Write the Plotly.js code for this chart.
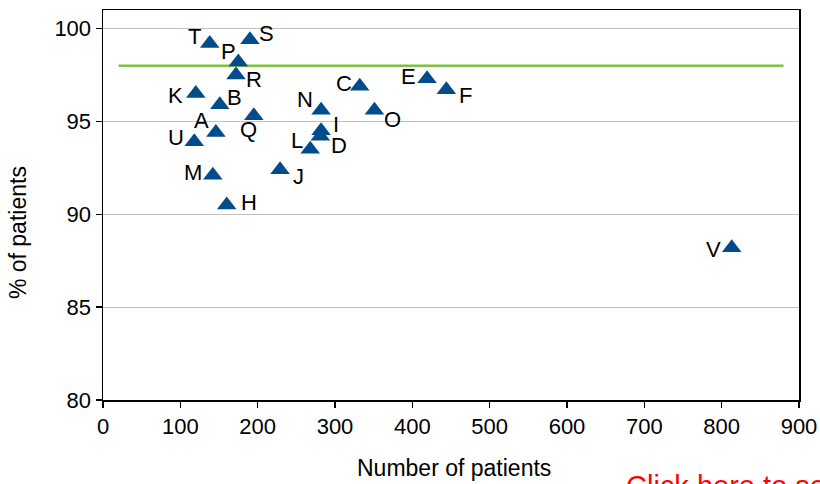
<!DOCTYPE html>
<html>
<head>
<meta charset="utf-8">
<script src="https://cdn.plot.ly/plotly-3.0.1.min.js"></script>
<style>
  html, body { margin: 0; padding: 0; background: #ffffff; }
  #chart { width: 820px; height: 484px; }
</style>
</head>
<body>
<div id="chart"></div>
<script>
// Centre identifiers
const centres = ['T', 'S', 'P', 'R', 'K', 'B', 'Q', 'A', 'U', 'M', 'H',
                 'J', 'L', 'D', 'I', 'N', 'C', 'O', 'E', 'F', 'V'];
// Number of patients per centre
const patientCount = [138, 190, 175, 172, 120, 151, 195, 146, 118, 142, 160,
                      229, 268, 281, 282, 282, 332, 351, 419, 444, 813];
// % of patients per centre
const patientPct = [99.2, 99.4, 98.2, 97.5, 96.5, 95.9, 95.3, 94.4, 93.9, 92.1, 90.5,
                    92.4, 93.5, 94.2, 94.5, 95.6, 96.9, 95.6, 97.3, 96.7, 88.2];
// Target line
const targetX = [20, 880];
const targetY = [98, 98];

// Label placement around each marker (pixels)
const labelDx = [-15, 17, -10, 18, -20, 15, -5, -14, -18, -20, 22,
                 18, -13, 19, 15, -16, -16, 18, -19, 19, -18];
const labelDy = [7, 6, 11, -4, -2, 7, -14, 12, 4, 3, 3,
                 -7, 9, -9, 6, 11, 3, -9, 2, -6, -2];

const FONT = 'Liberation Sans, Arial, sans-serif';

const target = {
  x: targetX, y: targetY, type: 'scatter', mode: 'lines',
  line: { color: '#7DC242', width: 2.5 },
  hoverinfo: 'skip', showlegend: false
};

const centresTrace = {
  x: patientCount, y: patientPct, type: 'scatter', mode: 'markers',
  text: centres,
  marker: { symbol: 'triangle-up', size: 17, color: '#034C8C', line: { width: 0 } },
  showlegend: false
};

const annotations = centres.map((c, i) => ({
  x: patientCount[i], y: patientPct[i], xref: 'x', yref: 'y',
  text: c, showarrow: false,
  xanchor: 'center', yanchor: 'middle',
  xshift: labelDx[i], yshift: labelDy[i],
  font: { family: FONT, size: 22, color: '#000000' }
}));

annotations.push({
  xref: 'paper', yref: 'paper', x: 0.504, y: -0.174,
  text: 'Number of patients', showarrow: false,
  xanchor: 'center', yanchor: 'middle',
  font: { family: FONT, size: 23, color: '#000000' }
});
annotations.push({
  xref: 'paper', yref: 'paper', x: -0.121, y: 0.43,
  text: '% of patients', showarrow: false, textangle: -90,
  xanchor: 'center', yanchor: 'middle',
  font: { family: FONT, size: 23, color: '#000000' }
});
annotations.push({
  xref: 'paper', yref: 'paper', x: 0.749, y: -0.2205,
  text: 'Click here to see the data', showarrow: false,
  xanchor: 'left', yanchor: 'middle',
  font: { family: FONT, size: 29, color: '#FF0000' }
});

const layout = {
  width: 820, height: 484,
  margin: { l: 103, r: 21, t: 10, b: 84 },
  paper_bgcolor: '#ffffff', plot_bgcolor: '#ffffff',
  font: { family: FONT, size: 22, color: '#000000' },
  xaxis: {
    range: [0, 900], dtick: 100, tick0: 0,
    showgrid: false, zeroline: false,
    showline: true, linecolor: '#000000', linewidth: 1.5, mirror: true,
    ticks: 'outside', ticklen: 6, tickwidth: 1.5, tickcolor: '#000000',
    tickfont: { family: FONT, size: 22, color: '#000000' }
  },
  yaxis: {
    range: [80, 101], tickvals: [80, 85, 90, 95, 100],
    showgrid: true, gridcolor: '#C0C0C0', gridwidth: 1, zeroline: false,
    showline: true, linecolor: '#000000', linewidth: 1.5, mirror: true,
    ticks: 'outside', ticklen: 6, tickwidth: 1.5, tickcolor: '#000000',
    tickfont: { family: FONT, size: 22, color: '#000000' }
  },
  annotations: annotations,
  hovermode: 'closest'
};

Plotly.newPlot('chart', [target, centresTrace], layout, { displayModeBar: false, staticPlot: true });
</script>
</body>
</html>
